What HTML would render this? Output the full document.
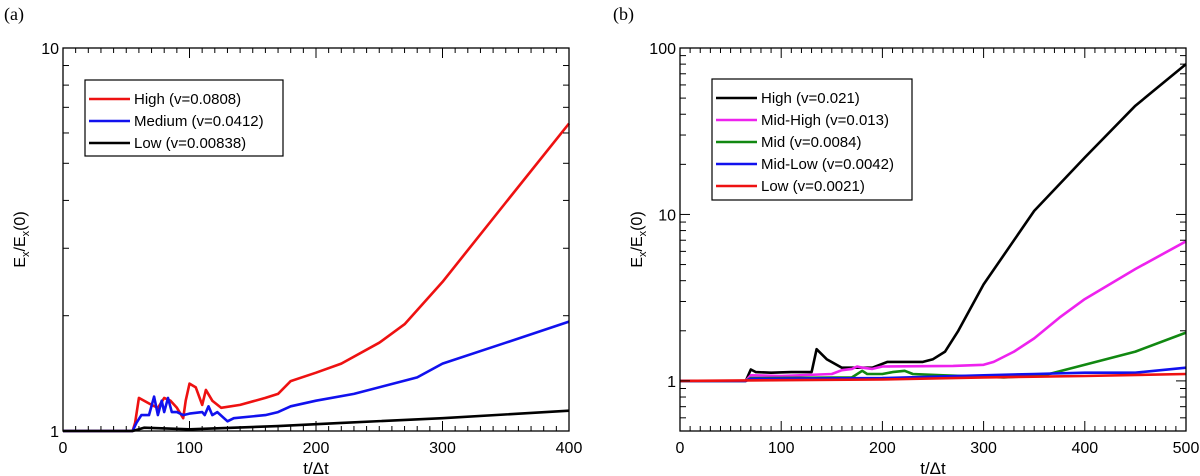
<!DOCTYPE html>
<html><head><meta charset="utf-8"><style>
body{margin:0;background:#fff}
svg{display:block}
text{font-family:"Liberation Sans",sans-serif;fill:#000}
</style></head><body>
<svg id="c" width="1200" height="476" xmlns="http://www.w3.org/2000/svg"></svg>
<script>
// Panel (a) data
const aT_red=[0,55,57,60,70,75,80,85,90,95,97,100,105,110,113,118,125,140,160,170,180,200,220,250,270,300,350,400];
const aV_red=[1,1,1.05,1.22,1.17,1.15,1.22,1.2,1.15,1.08,1.2,1.33,1.3,1.17,1.28,1.2,1.15,1.17,1.22,1.25,1.35,1.42,1.5,1.7,1.9,2.45,3.95,6.35];
const aT_blue=[0,55,58,62,68,72,75,78,80,83,86,90,95,100,110,112,115,118,122,130,135,160,170,180,200,230,280,300,350,400];
const aV_blue=[1,1,1.05,1.1,1.1,1.23,1.1,1.2,1.12,1.22,1.12,1.12,1.1,1.11,1.12,1.1,1.16,1.1,1.12,1.06,1.08,1.1,1.12,1.16,1.2,1.25,1.38,1.5,1.7,1.93];
const aT_black=[0,55,60,64,100,170,220,300,400];
const aV_black=[1,1,1.01,1.02,1.01,1.03,1.05,1.08,1.13];
const aXTicks=[0,100,200,300,400];
const aYTicks=[1,10];
// Panel (b) data
const bT_high=[0,65,70,75,90,110,130,135,145,160,190,205,240,250,262,275,300,350,400,450,500];
const bV_high=[1,1,1.17,1.13,1.12,1.13,1.13,1.55,1.35,1.2,1.2,1.3,1.3,1.35,1.5,2,3.8,10.5,22,45,80];
const bT_mh=[0,65,70,100,150,160,170,175,180,190,200,270,300,310,330,350,375,400,450,500];
const bV_mh=[1,1,1.08,1.07,1.1,1.16,1.18,1.22,1.2,1.18,1.22,1.23,1.25,1.3,1.5,1.8,2.4,3.1,4.7,6.9];
const bT_mid=[0,65,70,170,180,185,200,210,222,230,260,320,360,400,450,500];
const bV_mid=[1,1,1.04,1.05,1.15,1.1,1.1,1.13,1.15,1.1,1.08,1.05,1.08,1.25,1.5,1.95];
const bT_ml=[0,65,70,200,300,350,400,450,500];
const bV_ml=[1,1,1.03,1.04,1.08,1.1,1.12,1.12,1.2];
const bT_low=[0,200,300,400,500];
const bV_low=[1,1.02,1.05,1.07,1.1];
const bXTicks=[0,100,200,300,400,500];
const bYTicks=[1,10,100];

const NS="http://www.w3.org/2000/svg";
const svg=document.getElementById('c');
function mk(tag,attrs,parent){const e=document.createElementNS(NS,tag);for(const k in attrs)e.setAttribute(k,attrs[k]);(parent||svg).appendChild(e);return e;}

function panel(opt){
  const g=mk('g',{});
  
  
  const {x0,x1,y0,y1,tmax,lmin,lmax}=opt;
  const X=t=>x0+(t/tmax)*(x1-x0);
  const Y=v=>y1-(Math.log10(v)-Math.log10(lmin))/(Math.log10(lmax)-Math.log10(lmin))*(y1-y0);
  opt.series.forEach(s=>{
    const d=s.t.map((t,i)=>(i?'L':'M')+X(t).toFixed(1)+','+Y(s.v[i]).toFixed(1)).join('');
    const p=mk('path',{d:d,fill:'none',stroke:s.color,'stroke-width':2.6,'stroke-linejoin':'round'},g);
    
    
  });
  const fr=mk('rect',{x:x0,y:y0,width:x1-x0,height:y1-y0,fill:'none',stroke:'#000','stroke-width':1.3},g);
  
  
  for(let t=0;t<=tmax;t+=10){
    const maj=t%100===0, L=maj?10:5;
    mk('line',{x1:X(t),x2:X(t),y1:y1,y2:y1-L,stroke:'#000','stroke-width':1},g);
    mk('line',{x1:X(t),x2:X(t),y1:y0,y2:y0+L,stroke:'#000','stroke-width':1},g);
  }
  opt.xticks.forEach(t=>{
    const tx=mk('text',{x:X(t),y:y1+22,'text-anchor':'middle','font-size':16},g);
    tx.textContent=t;
    
    
  });
  for(let e=Math.floor(Math.log10(lmin));e<Math.log10(lmax);e++){
    for(let m=1;m<10;m++){
      const v=m*Math.pow(10,e);
      if(v<lmin-1e-9||v>lmax+1e-9)continue;
      const L=m===1?10:6;
      mk('line',{x1:x0,x2:x0+L,y1:Y(v),y2:Y(v),stroke:'#000','stroke-width':1},g);
      mk('line',{x1:x1,x2:x1-L,y1:Y(v),y2:Y(v),stroke:'#000','stroke-width':1},g);
    }
  }
  opt.yticks.forEach(v=>{
    const tx=mk('text',{x:x0-4,y:Y(v)+6,'text-anchor':'end','font-size':16},g);
    tx.textContent=v;
    
    
  });
  const xt=mk('text',{x:(x0+x1)/2,y:474,'text-anchor':'middle','font-size':17},g);
  xt.textContent='t/Δt';
  
  
  const yt=mk('text',{transform:`translate(${x0-38},${(y0+y1)/2}) rotate(-90)`,'text-anchor':'middle','font-size':16},g);
  yt.innerHTML='E<tspan font-size="11" dy="4">x</tspan><tspan dy="-4">/E</tspan><tspan font-size="11" dy="4">x</tspan><tspan dy="-4">(0)</tspan>';
  
  
  const pl=mk('text',{x:opt.labx,y:20,'font-size':18,style:'font-family:"Liberation Serif",serif'},g);
  pl.textContent=opt.label;
  
  
  const lg=mk('g',{},g);
  
  
  const [lx,ly,lw,lh]=opt.legend;
  mk('rect',{x:lx,y:ly,width:lw,height:lh,fill:'#fff',stroke:'#000','stroke-width':1.2},lg);
  opt.series.forEach((s,i)=>{
    const yy=ly+19+i*22;
    const ent=mk('g',{},lg);
    
    
    mk('line',{x1:lx+4,x2:lx+45,y1:yy,y2:yy,stroke:s.color,'stroke-width':2.6},ent);
    const t=mk('text',{x:lx+49,y:yy+5,'font-size':15},ent);
    t.textContent=s.label;
  });
}

panel({name:'panel-a',label:'(a)',labx:4,x0:63,x1:569,y0:48,y1:431,tmax:400,lmin:1,lmax:10,
  xticks:aXTicks,yticks:aYTicks,legend:[85,80,198,76],
  series:[
    {id:'series-high',t:aT_red,v:aV_red,color:'#ee1111',label:'High (v=0.0808)'},
    {id:'series-medium',t:aT_blue,v:aV_blue,color:'#1111ee',label:'Medium (v=0.0412)'},
    {id:'series-low',t:aT_black,v:aV_black,color:'#000',label:'Low (v=0.00838)'}
  ]});
panel({name:'panel-b',label:'(b)',labx:613,x0:680,x1:1186,y0:48,y1:431,tmax:500,lmin:0.5,lmax:100,
  xticks:bXTicks,yticks:bYTicks,legend:[712,79,200,121],
  series:[
    {id:'series-high',t:bT_high,v:bV_high,color:'#000',label:'High (v=0.021)'},
    {id:'series-mid-high',t:bT_mh,v:bV_mh,color:'#ee22ee',label:'Mid-High (v=0.013)'},
    {id:'series-mid',t:bT_mid,v:bV_mid,color:'#118811',label:'Mid (v=0.0084)'},
    {id:'series-mid-low',t:bT_ml,v:bV_ml,color:'#1111ee',label:'Mid-Low (v=0.0042)'},
    {id:'series-low',t:bT_low,v:bV_low,color:'#ee1111',label:'Low (v=0.0021)'}
  ]});
</script>
</body></html>
